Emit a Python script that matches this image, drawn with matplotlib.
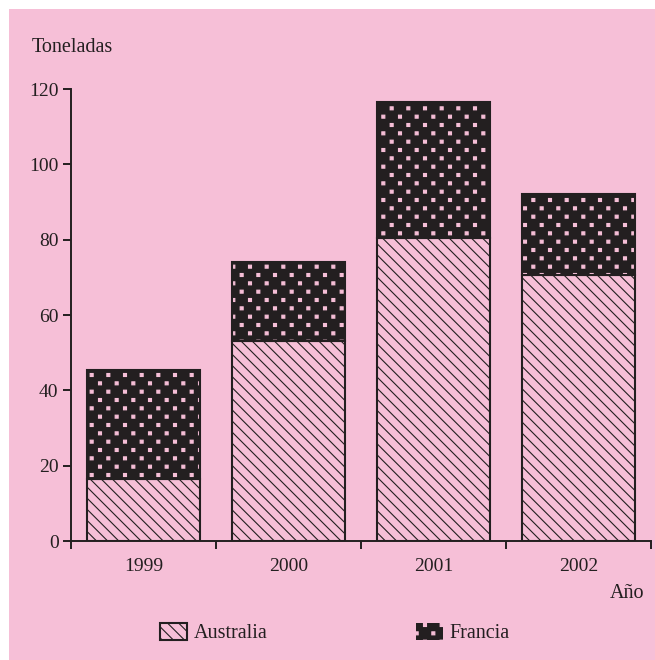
import numpy as np
import matplotlib
matplotlib.use("Agg")
import matplotlib.pyplot as plt
from matplotlib import hatch as mhatch
from matplotlib.path import Path
from matplotlib.patches import Rectangle

# datos (toneladas)
years = ['1999', '2000', '2001', '2002']
australia = [16.5, 53, 80.5, 70.5]
francia = [29, 21, 36, 21.5]
yticks = [0, 20, 40, 60, 80, 100, 120]

PINK = '#f6bfd7'
DARK = '#231f20'

plt.rcParams['font.family'] = ['Liberation Serif', 'DejaVu Serif']
plt.rcParams['hatch.linewidth'] = 0.8


# trama de puntos al tresbolillo (filas a media distancia, desplazadas)
class StaggeredDots(mhatch.HatchPatternBase):
    half = 0.015

    def __init__(self, hatch, density):
        n = hatch.count('.') * density
        self.centres = []
        if n:
            for row in range(2 * n + 1):
                if row % 2 == 0:
                    cols = np.linspace(0, 1, n + 1)
                else:
                    cols = np.linspace(0.5 / n, 1 - 0.5 / n, n)
                for c in cols:
                    self.centres.append((c, row / (2 * n)))
        self.num_vertices = 5 * len(self.centres)

    def set_vertices_and_codes(self, vertices, codes):
        h = self.half
        square = np.array([[-h, -h], [h, -h], [h, h], [-h, h], [-h, -h]])
        for i, (x, y) in enumerate(self.centres):
            vertices[5 * i:5 * i + 5] = square + [x, y]
            codes[5 * i:5 * i + 5] = [Path.MOVETO, Path.LINETO, Path.LINETO,
                                      Path.LINETO, Path.CLOSEPOLY]


mhatch._hatch_types = [t for t in mhatch._hatch_types
                       if t is not mhatch.SmallFilledCircles] + [StaggeredDots]

W, H = 655, 660
fig = plt.figure(figsize=(W / 100, H / 100), dpi=100, facecolor='white')
fig.patches.append(Rectangle((9 / W, 0), 1, 1 - 9 / H, transform=fig.transFigure,
                             facecolor=PINK, edgecolor='none', zorder=-10))

ax = fig.add_axes([71 / W, 1 - 541 / H, (651 - 71) / W, (541 - 89) / H])
ax.set_facecolor('none')

x = np.arange(len(years))
bw = 0.78
bars_a = ax.bar(x, australia, bw, color=PINK, edgecolor=DARK, linewidth=1.5,
                hatch='\\\\\\', label='Australia', zorder=2)
bars_f = ax.bar(x, francia, bw, bottom=australia, color=DARK, edgecolor=PINK,
                linewidth=0, hatch='.', label='Francia', zorder=2)
ax.bar(x, francia, bw, bottom=australia, fill=False, edgecolor=DARK,
       linewidth=1.5, zorder=3)

ax.set_xlim(-0.5, len(years) - 0.5)
ax.set_ylim(0, 120)
ax.set_yticks(yticks)
ax.set_xticks(x)
ax.set_xticklabels(years)
ax.set_xticks(np.arange(len(years) + 1) - 0.5, minor=True)

for s in ['top', 'right']:
    ax.spines[s].set_visible(False)
for s in ['left', 'bottom']:
    ax.spines[s].set_linewidth(1.4)
    ax.spines[s].set_color(DARK)

ax.tick_params(axis='y', direction='out', length=6, width=1.4, pad=3,
               labelsize=14, colors=DARK)
ax.tick_params(axis='x', which='major', length=0, pad=12, labelsize=14, colors=DARK)
ax.tick_params(axis='x', which='minor', direction='out', length=6, width=1.4,
               colors=DARK)

fig.text(32 / W, 1 - 47 / H, 'Toneladas', ha='left', va='center',
         fontsize=14.5, color=DARK)
fig.text(610 / W, 1 - 593 / H, 'Año', ha='left', va='center',
         fontsize=14.5, color=DARK)

leg = fig.legend(handles=[bars_a, bars_f], loc='center',
                 bbox_to_anchor=(335 / W, 1 - 633 / H), ncol=2, frameon=False,
                 fontsize=14.5, handlelength=1.3, handleheight=0.95,
                 handletextpad=0.35, columnspacing=7.4, borderpad=0)
for t in leg.get_texts():
    t.set_color(DARK)

plt.savefig('out.png', dpi=100, facecolor=fig.get_facecolor())
